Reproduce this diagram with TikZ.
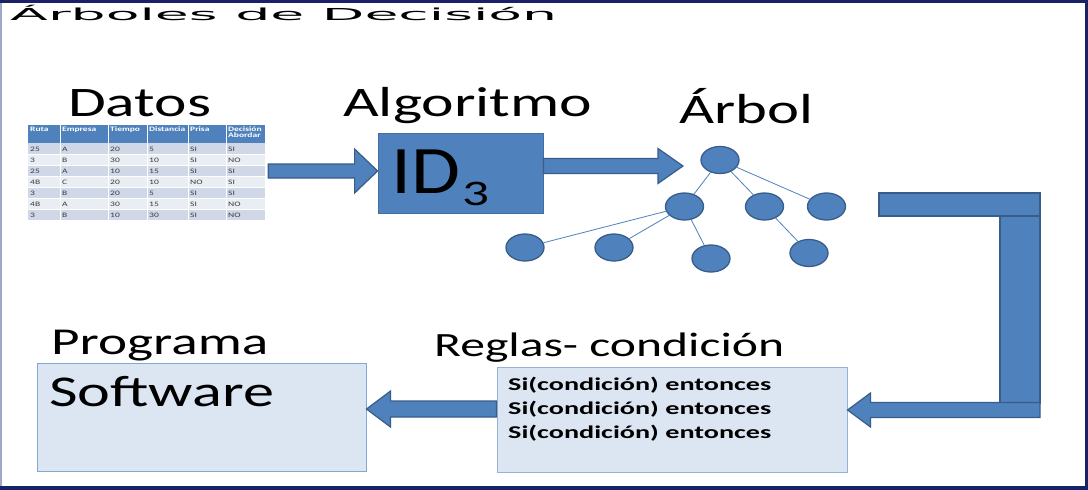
\documentclass[tikz,border=0pt]{standalone}
\usepackage{fontspec}
\setmainfont{Carlito}
\newfontfamily\titlefont{DejaVu Sans}
\usepackage{graphicx}
\usetikzlibrary{calc,shapes.geometric}
\definecolor{ofblue}{HTML}{4F81BD}
\definecolor{ofdark}{HTML}{385D8A}
\definecolor{lightfill}{HTML}{DCE6F2}
\definecolor{lightedge}{HTML}{95B3D7}
\definecolor{navy}{RGB}{24,34,102}
\definecolor{leftline}{RGB}{160,168,200}
\definecolor{rowa}{HTML}{D0D8E8}
\definecolor{rowb}{HTML}{E9EDF4}
\definecolor{tabtext}{HTML}{3A3A3A}
\newcommand\harrow[5]{%
  \filldraw[blk] let \p1=(#1), \p2=(#2) in
  (\x1,{\y2+#3}) -- ({\x2-(#5)},{\y2+#3}) -- ({\x2-(#5)},{\y2+#4}) -- (\x2,\y2)
  -- ({\x2-(#5)},{\y2-(#4)}) -- ({\x2-(#5)},{\y2-(#3)}) -- (\x1,{\y2-(#3)}) -- cycle;}
\newcommand\sxt[1]{\scalebox{1.4}[1]{#1}}
\tikzset{
  blk/.style={fill=ofblue, draw=ofdark, line width=1.2pt},
  bluebox/.style={rectangle, fill=ofblue, draw=ofblue!85!black, line width=0.8pt, inner sep=0},
  lightbox/.style={rectangle, fill=lightfill, draw=lightedge, line width=1pt, inner sep=0},
  treenode/.style={ellipse, fill=ofblue, draw=ofdark, line width=1.3pt, minimum width=38pt, minimum height=27pt, inner sep=0},
  edge/.style={draw=ofblue, line width=0.8pt},
  lbl/.style={inner sep=0, anchor=base west},
  thead/.style={inner sep=0, anchor=north west, text=white, font=\bfseries\fontsize{6.8}{7}\selectfont, align=left},
  tcell/.style={inner sep=0, anchor=base west, text=tabtext, font=\fontsize{6.8}{7}\selectfont},
}
\begin{document}
\begin{tikzpicture}[x=1pt,y=-1pt]
\useasboundingbox (0,0) rectangle (1088,490);
% frame
\fill[white] (0,0) rectangle (1088,490);
\fill[navy] (0,0) rectangle (1088,3);
\fill[navy] (1085,0) rectangle (1088,490);
\fill[navy] (0,486) rectangle (1088,490);
\fill[leftline] (0,3) rectangle (1.5,486);
% title
\node[lbl] (title) at (10,20.5) {\resizebox{547pt}{\height}{\titlefont\fontsize{16.5}{16.5}\selectfont Árboles de Decisión}};
% headings
\node[lbl] (datos) at (68,116) {\resizebox{143pt}{\height}{\fontsize{42}{42}\selectfont Datos}};
\node[lbl] (algo) at (343,116) {\resizebox{249pt}{\height}{\fontsize{42}{42}\selectfont Algoritmo}};
\node[lbl] (arbol) at (679,123) {\resizebox{134pt}{\height}{\fontsize{42}{42}\selectfont Árbol}};
\node[lbl] (prog) at (51,354) {\resizebox{217pt}{\height}{\fontsize{38}{38}\selectfont Programa}};
\node[lbl] (reglas) at (434,356) {\resizebox{350pt}{\height}{\fontsize{34}{34}\selectfont Reglas- condición}};
% table
\node[inner sep=0, minimum width=237pt, minimum height=95pt] (tbl) at (146.5,172.5) {};
\fill[ofblue] (28,125) rectangle (265,143);
\foreach \i in {1,...,7}{
  \pgfmathsetmacro\ya{143+11*(\i-1)}
  \pgfmathsetmacro\yb{143+11*\i}
  \ifodd\i \fill[rowa] (28,\ya) rectangle (265,\yb); \else \fill[rowb] (28,\ya) rectangle (265,\yb); \fi
}
\foreach \xx in {60,108,147,188,226} \draw[white, line width=0.8pt] (\xx,125) -- (\xx,220);
\foreach \i in {1,...,6} \draw[white, line width=0.8pt] (28,{143+11*\i}) -- (265,{143+11*\i});
\node[thead] (h1) at (30,126.5) {\sxt{Ruta}};
\node[thead] (h2) at (62,126.5) {\sxt{Empresa}};
\node[thead] (h3) at (110,126.5) {\sxt{Tiempo}};
\node[thead] (h4) at (149,126.5) {\sxt{Distancia}};
\node[thead] (h5) at (190,126.5) {\sxt{Prisa}};
\node[thead] (h6) at (228,126.5) {\sxt{Decisión}\\[-1.2pt]\sxt{Abordar}};
\foreach \r/\a/\b/\c/\d/\e/\f in {1/25/A/20/5/SI/SI, 2/3/B/30/10/SI/NO, 3/25/A/10/15/SI/SI, 4/4B/C/20/10/NO/SI, 5/3/B/20/5/SI/SI, 6/4B/A/30/15/SI/NO, 7/3/B/10/30/SI/NO}{
  \pgfmathsetmacro\yy{143+11*(\r-1)+8.3}
  \node[tcell] (c\r a) at (30,\yy) {\sxt{\a}};
  \node[tcell] (c\r b) at (62,\yy) {\sxt{\b}};
  \node[tcell] (c\r c) at (110,\yy) {\sxt{\c}};
  \node[tcell] (c\r d) at (149,\yy) {\sxt{\d}};
  \node[tcell] (c\r e) at (190,\yy) {\sxt{\e}};
  \node[tcell] (c\r f) at (228,\yy) {\sxt{\f}};
}
% ID3 box
\node[bluebox, minimum width=165pt, minimum height=80pt] (id) at (460.5,173) {};
\node[lbl] (idtxt) at (391,193) {\resizebox{69pt}{\height}{\fontsize{68}{68}\selectfont ID}};
\node[lbl] (idsub) at (462,205) {\resizebox{27pt}{\height}{\fontsize{36}{36}\selectfont 3}};
% tree
\node[treenode] (r) at (720,160) {};
\node[treenode] (m1) at (684.5,206.5) {};
\node[treenode] (m2) at (764.5,206.5) {};
\node[treenode] (m3) at (826.5,206.5) {};
\node[treenode] (l1) at (525,247.5) {};
\node[treenode] (l2) at (614,247.5) {};
\node[treenode] (l3) at (711,258.5) {};
\node[treenode] (l4) at (809,253) {};
\draw[edge] (r) -- (m1);
\draw[edge] (r) -- (m2);
\draw[edge] (r) -- (m3);
\draw[edge] (m1) -- (l1);
\draw[edge] (m1) -- (l2);
\draw[edge] (m1) -- (l3);
\draw[edge] (m2) -- (l4);
% rules box
\node[lightbox, minimum width=350pt, minimum height=105pt] (rules) at (672,419.5) {};
\foreach \i/\yy in {1/390,2/414,3/438}
  \node[lbl] (rl\i) at (508,\yy) {\resizebox{263pt}{\height}{\bfseries\fontsize{18}{18}\selectfont Si(condición) entonces}};
% software box
\node[lightbox, draw=ofblue!70, minimum width=329pt, minimum height=108pt] (soft) at (201.5,417) {};
\node[lbl] (softtxt) at (49,406) {\resizebox{225pt}{\height}{\fontsize{44}{44}\selectfont Software}};
% block arrows
\coordinate (treetip) at (683,166);
\harrow{[xshift=3pt]tbl.east}{[yshift=2pt]id.west}{7pt}{22pt}{23pt}
\harrow{[yshift=7.5pt]id.east}{treetip}{7.5pt}{17.5pt}{25pt}
% L-shaped connector
\coordinate (lstart) at (879,204.5);
\filldraw[blk] (lstart) ++(0,-11.5) rectangle (1040,216);
\filldraw[blk] (1000,216) rectangle (1040,403);
\harrow{1040,410}{[yshift=9.5pt]rules.east}{7.5pt}{17pt}{-23pt}
\harrow{[yshift=10pt]rules.west}{[yshift=8pt]soft.east}{8pt}{18pt}{-24pt}
\end{tikzpicture}
\end{document}
